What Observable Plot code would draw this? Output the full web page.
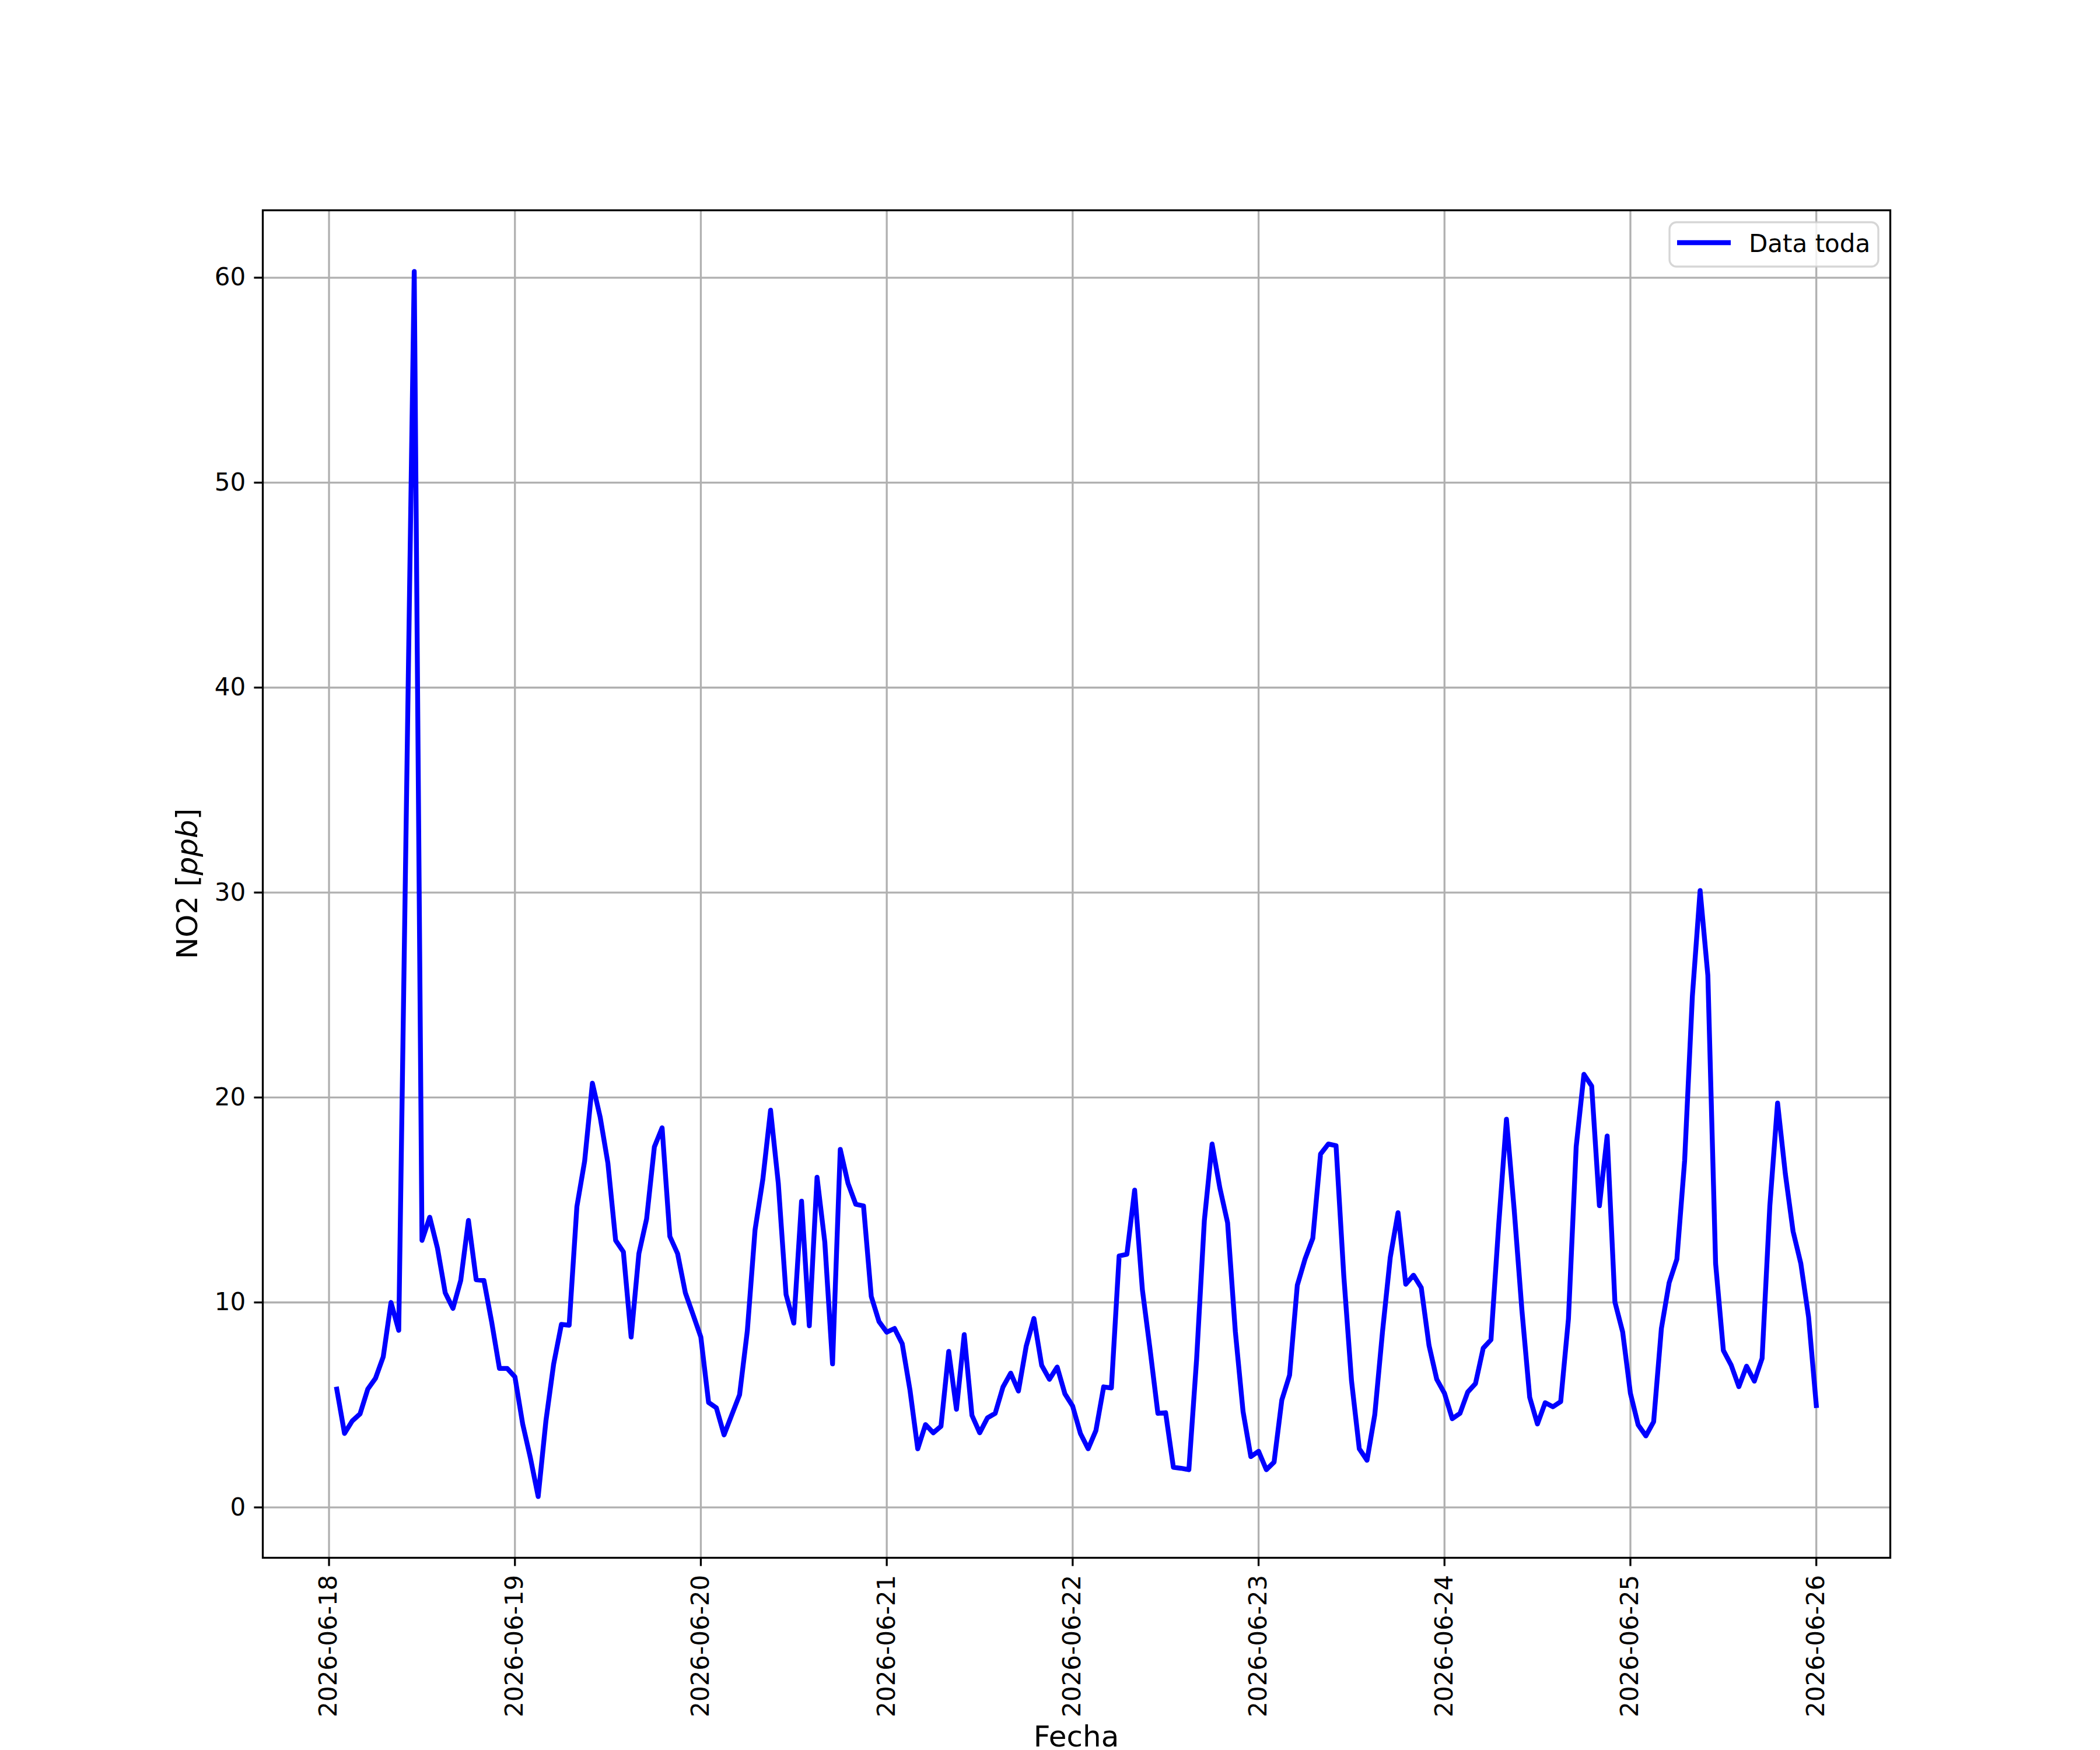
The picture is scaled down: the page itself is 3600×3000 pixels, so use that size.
<!DOCTYPE html>
<html><head><meta charset="utf-8">
<script src="https://cdn.jsdelivr.net/npm/d3@7"></script>
<script src="https://cdn.jsdelivr.net/npm/@observablehq/plot@0.6"></script>
<style>html,body{margin:0;padding:0;background:#fff;overflow:hidden}</style>
</head><body><div id="chart"></div>
<script>
// Hourly NO2 [ppb], one array per day, index = hour of day (UTC); null = no reading
const startDay = "2026-06-18T00:00:00Z";
const no2_0618 = [null, 5.77, 3.61, 4.22, 4.56, 5.77, 6.30, 7.35, 10.0, 8.64, null, 60.3, 13.03, 14.16, 12.65, 10.47, 9.71, 11.07, 14.0, 11.11, 11.07, 9.04, 6.78, 6.78];
const no2_0619 = [6.37, 4.07, 2.41, 0.53, 4.22, 7.0, 8.93, 8.89, 14.68, 16.9, 20.7, 19.05, 16.8, 13.03, 12.47, 8.31, 12.38, 14.08, 17.59, 18.52, 13.22, 12.38, 10.47, 9.4];
const no2_0620 = [8.31, 5.12, 4.86, 3.54, 4.52, 5.50, 8.61, 13.55, 16.0, 19.38, 15.81, 10.39, 8.99, 14.94, 8.86, 16.11, 12.95, 7.0, 17.47, 15.81, 14.79, 14.71, 10.29, 9.07];
const no2_0621 = [8.55, 8.73, 7.98, 5.72, 2.86, 4.04, 3.64, 3.96, 7.61, 4.79, 8.43, 4.49, 3.64, 4.37, 4.59, 5.87, 6.55, 5.68, 7.86, 9.22, 6.93, 6.25, 6.85, 5.54];
const no2_0622 = [4.94, 3.61, 2.86, 3.75, 5.88, 5.83, 12.27, 12.35, 15.48, 10.62, 7.68, 4.59, 4.62, 1.96, 1.91, 1.84, 7.23, 14.0, 17.73, 15.59, 13.89, 8.58, 4.67, 2.48];
const no2_0623 = [2.74, 1.84, 2.21, 5.24, 6.45, 10.84, 12.12, 13.13, 17.24, 17.73, 17.65, 11.30, 6.17, 2.86, 2.30, 4.52, 8.58, 12.2, 14.38, 10.89, 11.33, 10.72, 7.91, 6.25];
const no2_0624 = [5.57, 4.33, 4.59, 5.63, 6.04, 7.77, 8.18, 13.8, 18.94, 14.51, 9.60, 5.37, 4.07, 5.11, 4.91, 5.16, 9.19, 17.6, 21.13, 20.56, 14.72, 18.12, 10.02, 8.56];
const no2_0625 = [5.57, 4.03, 3.49, 4.18, 8.73, 10.96, 12.11, 16.91, 24.95, 30.1, 25.95, 11.9, 7.66, 6.95, 5.89, 6.89, 6.16, 7.27, 14.72, 19.73, 16.28, 13.47, 11.9, 9.29];
const no2_0626 = [4.97];

const xTickLabels = ["2026-06-18", "2026-06-19", "2026-06-20", "2026-06-21", "2026-06-22", "2026-06-23", "2026-06-24", "2026-06-25", "2026-06-26"];
const yTicks = [0, 10, 20, 30, 40, 50, 60];
const seriesName = "Data toda";
const xLabel = "Fecha";

const days = [no2_0618, no2_0619, no2_0620, no2_0621, no2_0622, no2_0623, no2_0624, no2_0625, no2_0626];
const t0 = Date.parse(startDay);
const data = [];
days.forEach((arr, di) => arr.forEach((v, h) => {
  if (v != null) data.push({t: new Date(t0 + (di * 24 + h) * 3600e3), v});
}));

const [tmin, tmax] = d3.extent(data, d => +d.t);
const [vmin, vmax] = d3.extent(data, d => d.v);
const tpad = 0.05 * (tmax - tmin), vpad = 0.05 * (vmax - vmin);
const xTicks = xTickLabels.map(s => new Date(s + "T00:00:00Z"));

const FONT = "DejaVu Sans";
const LW = 8.33;
const chart = Plot.plot({
  width: 3600, height: 3000,
  marginLeft: 450, marginRight: 360, marginTop: 360, marginBottom: 330,
  style: {fontFamily: FONT, fontSize: "42px", color: "black", background: "white"},
  x: {type: "utc", domain: [new Date(tmin - tpad), new Date(tmax + tpad)]},
  y: {domain: [vmin - vpad, vmax + vpad]},
  marks: [
    Plot.gridX(xTicks, {stroke: "#b0b0b0", strokeOpacity: 1, strokeWidth: 3.3}),
    Plot.gridY(yTicks, {stroke: "#b0b0b0", strokeOpacity: 1, strokeWidth: 3.3}),
    Plot.line(data, {x: "t", y: "v", stroke: "blue", strokeWidth: LW, strokeLinejoin: "round", strokeLinecap: "square"}),
    Plot.frame({stroke: "black", strokeWidth: 3.3}),
    Plot.axisX(xTicks, {anchor: "bottom", tickSize: 14.6, tickPadding: 14.6, tickRotate: -90,
      tickFormat: d3.utcFormat("%Y-%m-%d"), fontSize: 42, strokeWidth: 3.3, label: null}),
    Plot.axisY(yTicks, {anchor: "left", tickSize: 14.6, tickPadding: 14.6, fontSize: 42, strokeWidth: 3.3, label: null})
  ]
});
document.getElementById("chart").appendChild(chart);

const svg = d3.select(chart);
// y label with italic unit (mathtext style)
const yl = svg.append("text")
  .attr("transform", "translate(338,1515) rotate(-90)")
  .attr("text-anchor", "middle")
  .attr("font-family", FONT).attr("font-size", 50).attr("fill", "black");
yl.append("tspan").text("NO2 [");
yl.append("tspan").attr("font-style", "italic").text("ppb");
yl.append("tspan").text("]");
// x label
svg.append("text").attr("x", 1845).attr("y", 2994)
  .attr("text-anchor", "middle").attr("font-family", FONT).attr("font-size", 50).attr("fill", "black")
  .text(xLabel);
// legend
const lg = svg.append("g");
lg.append("rect").attr("x", 2862).attr("y", 381).attr("width", 358).attr("height", 76)
  .attr("rx", 12).attr("fill", "white").attr("fill-opacity", 0.8)
  .attr("stroke", "#cccccc").attr("stroke-opacity", 0.8).attr("stroke-width", 3.3);
lg.append("line").attr("x1", 2875).attr("x2", 2967).attr("y1", 416).attr("y2", 416)
  .attr("stroke", "blue").attr("stroke-width", LW).attr("stroke-linecap", "butt");
lg.append("text").attr("x", 2998).attr("y", 432).attr("text-anchor", "start")
  .attr("font-family", FONT).attr("font-size", 42)
  .attr("fill", "black").text(seriesName);
</script>
</body></html>
